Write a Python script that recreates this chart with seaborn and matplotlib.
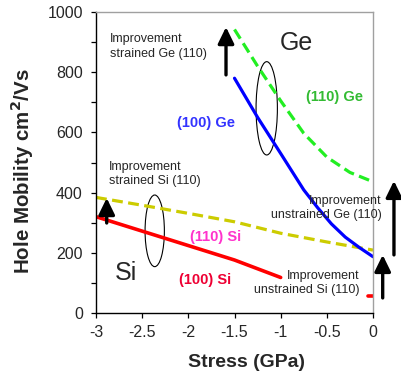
import numpy as np
import pandas as pd
import matplotlib
matplotlib.use("Agg")
import matplotlib.pyplot as plt
from matplotlib.patches import Ellipse
from matplotlib.ticker import MultipleLocator
import seaborn as sns

# ---- data ----
si100_x = [-3.0, -2.5, -2.0, -1.5, -1.0]
si100_y = [320, 272, 224, 176, 118]
si100_unstr_x = [-0.05, 0.0]
si100_unstr_y = [56, 56]
si110_x = [-3.0, -2.5, -2.0, -1.5, -1.0, -0.5, 0.0]
si110_y = [384, 358, 331, 303, 265, 236, 209]
ge100_x = [-1.5, -1.25, -1.0, -0.75, -0.6, -0.45, -0.3, -0.15, 0.0]
ge100_y = [780, 650, 530, 409, 350, 296, 252, 218, 187]
ge110_x = [-1.5, -1.25, -1.0, -0.75, -0.5, -0.25, 0.0]
ge110_y = [942, 820, 705, 597, 518, 467, 436]

xticks = [-3, -2.5, -2, -1.5, -1, -0.5, 0]
xticklabels = ["-3", "-2.5", "-2", "-1.5", "-1", "-0.5", "0"]
yticks = [0, 200, 400, 600, 800, 1000]

sns.set_style("ticks")
plt.rcParams["font.family"] = ["Liberation Sans", "DejaVu Sans"]

fig = plt.figure(figsize=(4.01, 3.77), dpi=100)
ax = fig.add_axes([96/401, 1-313/377, 277/401, 301/377])

lw = 2.3
dash = (0, (3.4, 1.7))
sns.lineplot(data=pd.DataFrame({"x": si100_x, "y": si100_y}), x="x", y="y",
             ax=ax, color="#FF0000", lw=lw + 0.3, sort=False)
sns.lineplot(data=pd.DataFrame({"x": si100_unstr_x, "y": si100_unstr_y}), x="x", y="y",
             ax=ax, color="#FF0000", lw=lw + 0.3, sort=False)
sns.lineplot(data=pd.DataFrame({"x": si110_x, "y": si110_y}), x="x", y="y",
             ax=ax, color="#CCCC00", lw=lw, sort=False, linestyle=dash)
sns.lineplot(data=pd.DataFrame({"x": ge100_x, "y": ge100_y}), x="x", y="y",
             ax=ax, color="#0000FF", lw=lw, sort=False)
sns.lineplot(data=pd.DataFrame({"x": ge110_x, "y": ge110_y}), x="x", y="y",
             ax=ax, color="#22EE22", lw=lw, sort=False, linestyle=dash)

ax.set_xlim(-3, 0)
ax.set_ylim(0, 1000)
ax.set_xticks(xticks)
ax.set_xticklabels(xticklabels)
ax.set_yticks(yticks)
ax.yaxis.set_minor_locator(MultipleLocator(100))
ax.tick_params(axis="both", which="both", direction="out", length=3.5, width=0.9,
               color="black", labelsize=11.5)
ax.tick_params(axis="x", pad=5)
ax.tick_params(axis="y", pad=6)

for s in ["left", "bottom"]:
    ax.spines[s].set_color("black")
    ax.spines[s].set_linewidth(1.0)
for s in ["top", "right"]:
    ax.spines[s].set_visible(True)
    ax.spines[s].set_color("#A0A0A0")
    ax.spines[s].set_linewidth(1.0)

ax.set_xlabel("Stress (GPa)", fontsize=14, fontweight="bold")
ax.set_ylabel("Hole Mobility cm$^{\\mathbf{2}}$/Vs", fontsize=14.8, fontweight="bold")
ax.xaxis.set_label_coords(0.543, -0.135)
ax.yaxis.set_label_coords(-0.215, 0.472)

# ---- annotations ----
fs = 9
ax.text(-2.848, 885, "Improvement\nstrained Ge (110)", fontsize=fs, ha="left", va="center",
        linespacing=1.25)
ax.text(-2.856, 462, "Improvement\nstrained Si (110)", fontsize=fs, ha="left", va="center",
        linespacing=1.25)
ax.text(0.092, 350, "Improvement\nunstrained Ge (110)", fontsize=fs, ha="right", va="center",
        multialignment="right", linespacing=1.25, clip_on=False)
ax.text(-0.141, 100, "Improvement\nunstrained Si (110)", fontsize=fs, ha="right", va="center",
        multialignment="right", linespacing=1.25)

ax.text(-0.826, 898, "Ge", fontsize=18, ha="center", va="center")
ax.text(-2.675, 133, "Si", fontsize=18, ha="center", va="center")

ax.text(-0.417, 718, "(110) Ge", fontsize=10.5, fontweight="bold", color="#33BB33",
        ha="center", va="center")
ax.text(-1.809, 631, "(100) Ge", fontsize=10.5, fontweight="bold", color="#3333FF",
        ha="center", va="center")
ax.text(-1.708, 253, "(110) Si", fontsize=10.5, fontweight="bold", color="#FF33CC",
        ha="center", va="center")
ax.text(-1.816, 110, "(100) Si", fontsize=10.5, fontweight="bold", color="#EE0033",
        ha="center", va="center")

ax.add_patch(Ellipse((-1.151, 680), 0.231, 310, fill=False, ec="black", lw=0.8))
ax.add_patch(Ellipse((-2.364, 273), 0.209, 238, fill=False, ec="black", lw=0.8))

arrow_kw = dict(arrowstyle="-|>,head_length=0.45,head_width=0.22", lw=2.4, color="black",
                shrinkA=0, shrinkB=0, mutation_scale=22)
for (x, y0, y1) in [(-1.592, 791, 950), (-2.884, 299, 382), (0.227, 193, 439), (0.105, 50, 193)]:
    ax.annotate("", xy=(x, y1), xytext=(x, y0), arrowprops=arrow_kw, annotation_clip=False)

fig.savefig("out.png", dpi=100)
